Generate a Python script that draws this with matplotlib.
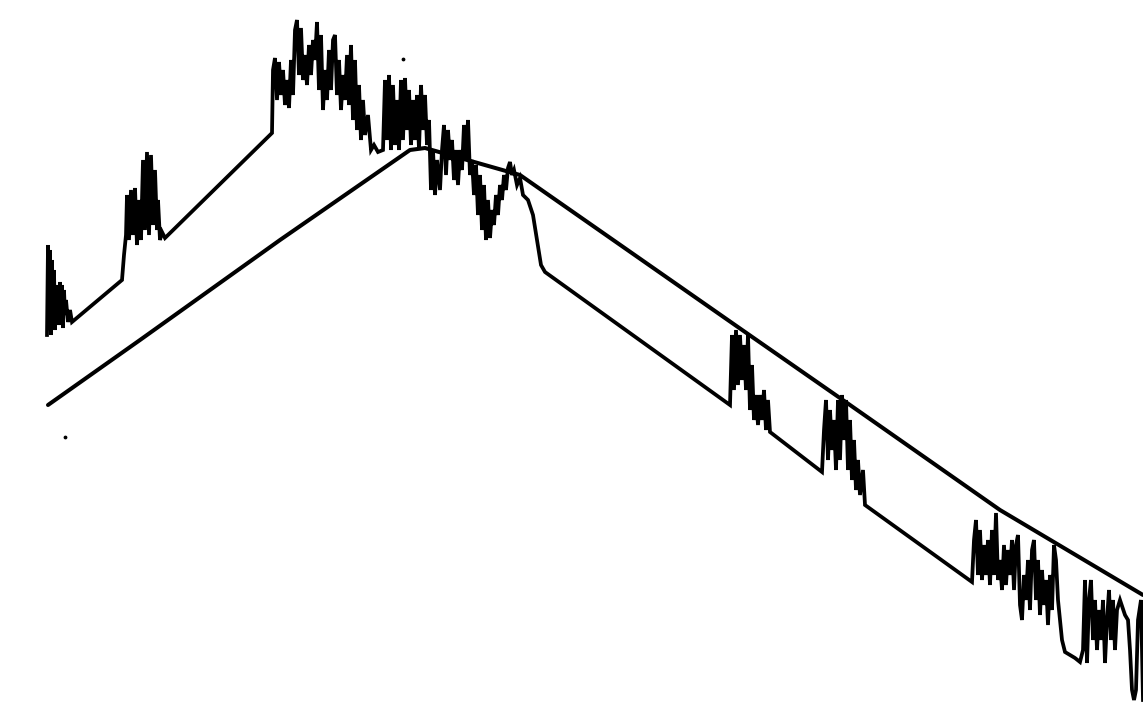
import matplotlib
matplotlib.use('Agg')
from matplotlib import pyplot as plt
import numpy as np

# values (pixel units, y grows downward)

# smooth envelope line
ridge_x = [48, 140, 280, 410, 425, 520, 735, 850, 1000, 1143]
ridge_y = [405, 340, 240, 150, 148, 175, 325, 405, 510, 595]

# noisy trace, split into bursts and the quiet ramps between them
burst1 = [(47, 335), (48, 245), (49, 330), (50, 250), (51, 335), (52, 260), (53, 320), (54, 270),
          (55, 330), (56, 285), (57, 318), (58, 290), (59, 325), (60, 282), (61, 315), (62, 285),
          (63, 328), (64, 290), (65, 315), (66, 300), (68, 322), (70, 310), (72, 322)]
burst2 = [(122, 280), (124, 255), (126, 235), (127, 195), (129, 240), (131, 190), (133, 235),
          (135, 188), (137, 245), (139, 200), (141, 240), (143, 160), (145, 230), (147, 152),
          (149, 235), (151, 155), (153, 225), (155, 170), (157, 230), (158, 200), (160, 240),
          (162, 232), (165, 238)]
burst3 = [(272, 133), (273, 70), (275, 58), (277, 100), (279, 62), (281, 95), (283, 70), (285, 105),
          (287, 80), (289, 108), (291, 60), (293, 95), (295, 30), (297, 20), (299, 75), (301, 28),
          (303, 80), (305, 55), (307, 85), (309, 45), (311, 75), (313, 40), (315, 60), (317, 22),
          (319, 90), (321, 35), (323, 110), (325, 70), (327, 100), (329, 50), (331, 90), (333, 40),
          (335, 35), (337, 95), (339, 60), (341, 110), (343, 75), (345, 100), (347, 55), (349, 105),
          (351, 45), (353, 120), (355, 60), (357, 130), (359, 85), (361, 140), (363, 100), (365, 135),
          (368, 115), (371, 150), (374, 145), (378, 152), (383, 150)]
burst4 = [(385, 80), (387, 140), (389, 75), (391, 150), (393, 85), (395, 145), (397, 100), (399, 150),
          (401, 80), (403, 140), (405, 78), (407, 130), (409, 90), (411, 145), (413, 100), (415, 140),
          (417, 95), (419, 150), (421, 85), (423, 130), (425, 95), (427, 145), (429, 120), (431, 190),
          (433, 150), (435, 195), (437, 160), (440, 190), (442, 150)]
burst5 = [(444, 125), (446, 175), (448, 130), (450, 160), (452, 140), (454, 180), (456, 150),
          (458, 185), (460, 150), (462, 170), (464, 125), (466, 160), (468, 120), (470, 175),
          (472, 160), (474, 195), (476, 165), (478, 215), (480, 175), (482, 230), (484, 185),
          (486, 240), (488, 200), (490, 238), (492, 210), (494, 225), (496, 195), (498, 215),
          (500, 185), (502, 200), (504, 175), (506, 190), (508, 168), (510, 162), (512, 175),
          (514, 170), (517, 185), (520, 178), (523, 195), (528, 200), (533, 215), (537, 240),
          (541, 265), (545, 272)]
burst6 = [(730, 405), (732, 335), (734, 390), (736, 330), (738, 385), (740, 335), (742, 380),
          (744, 345), (746, 390), (748, 335), (750, 410), (752, 365), (754, 420), (756, 395),
          (758, 425), (760, 395), (762, 420), (764, 390), (766, 430), (768, 400), (770, 432)]
burst7 = [(822, 472), (824, 430), (826, 400), (828, 460), (830, 410), (832, 450), (834, 420),
          (836, 470), (838, 400), (840, 460), (842, 395), (844, 440), (846, 400), (848, 470),
          (850, 420), (852, 480), (854, 440), (856, 490), (858, 460), (860, 495), (863, 470),
          (865, 505)]
burst8 = [(972, 582), (974, 540), (976, 520), (978, 575), (980, 530), (982, 580), (984, 545),
          (986, 575), (988, 540), (990, 585), (992, 530), (994, 575), (996, 513), (998, 580),
          (1000, 560), (1002, 590), (1004, 545), (1006, 585), (1008, 550), (1010, 575), (1012, 540),
          (1014, 590), (1016, 545), (1018, 535), (1020, 605), (1022, 620), (1024, 575), (1026, 600),
          (1028, 560), (1030, 610), (1032, 550), (1034, 540), (1036, 600), (1038, 560), (1040, 615),
          (1042, 570), (1044, 605), (1046, 580), (1048, 625), (1050, 575), (1052, 610), (1054, 545),
          (1056, 560), (1058, 600), (1060, 620), (1062, 640), (1065, 652), (1070, 655), (1075, 658),
          (1080, 662), (1083, 650), (1085, 580), (1087, 663), (1089, 600), (1091, 580), (1093, 640),
          (1095, 600), (1097, 650), (1099, 610), (1101, 640), (1103, 600), (1105, 663), (1107, 620),
          (1109, 590), (1111, 640), (1113, 600), (1115, 650), (1117, 610), (1120, 600), (1125, 615),
          (1128, 620), (1130, 650), (1132, 690), (1134, 700), (1136, 690), (1138, 620), (1141, 600),
          (1143, 700)]

# stray specks from the scan
speck_x = [403, 65]
speck_y = [59, 437]

noisy = burst1 + burst2 + burst3 + burst4 + burst5 + burst6 + burst7 + burst8
noisy_x = [p[0] for p in noisy]
noisy_y = [p[1] for p in noisy]

fig = plt.figure(figsize=(11.43, 7.05), dpi=100)
ax = fig.add_axes([0, 0, 1, 1])
ax.plot(ridge_x, ridge_y, color='black', lw=2.9, solid_joinstyle='round', solid_capstyle='round')
ax.plot(noisy_x, noisy_y, color='black', lw=2.7, solid_joinstyle='miter')
ax.scatter(speck_x, speck_y, s=3, color='black')
ax.set_xlim(0, 1143)
ax.set_ylim(705, 0)
ax.axis('off')
fig.savefig('out.png', dpi=100, facecolor='white')
